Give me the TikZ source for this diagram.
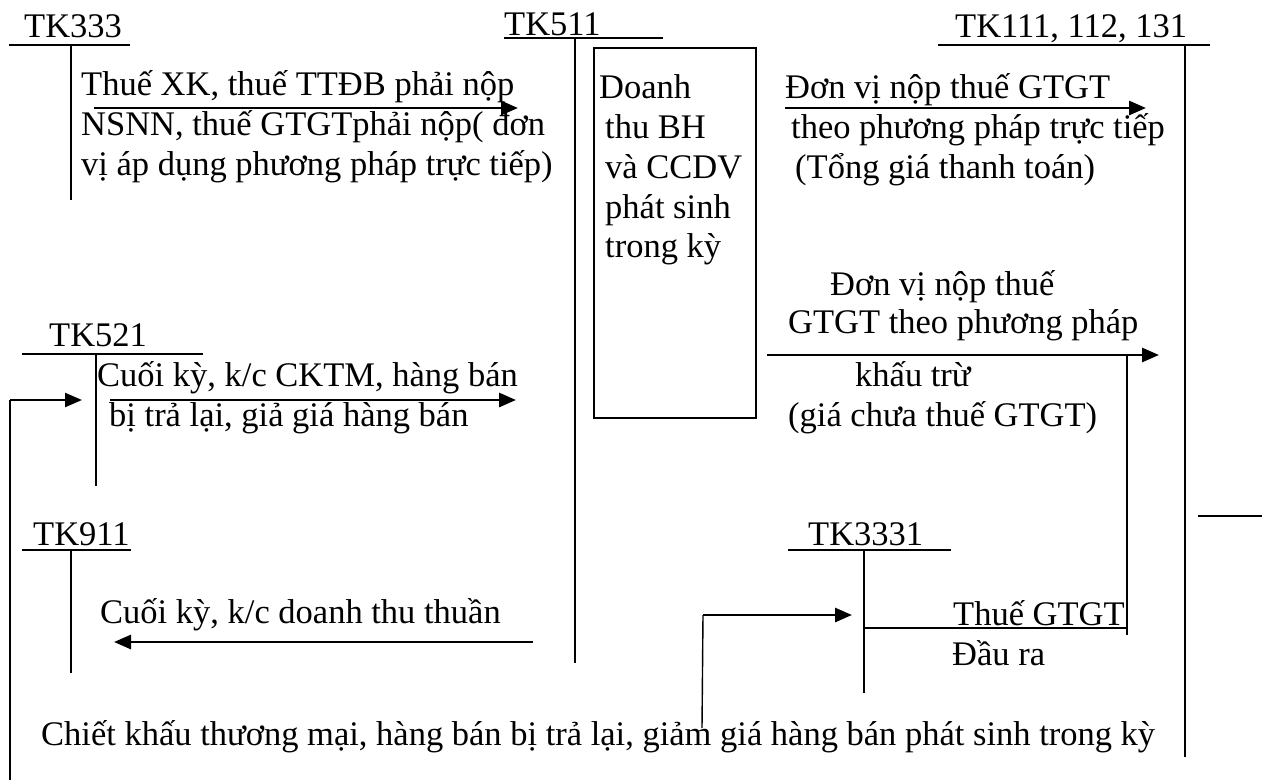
\documentclass[tikz,border=0pt]{standalone}
\usepackage{fontspec}
\setmainfont{Liberation Serif}
\usetikzlibrary{arrows.meta}
\begin{document}
\begin{tikzpicture}[x=1pt,y=-1pt,
  txt/.style={font=\fontsize{34.5}{40}\selectfont, inner sep=0pt, anchor=base west},
  thin/.style={line width=1.4pt},
  rule/.style={line width=1.8pt},
  flow/.style={line width=2.8pt, -{Triangle[length=17pt,width=14pt]}},
]
\useasboundingbox (0,0) rectangle (1262,780);

% ---- TK333 ----
\node[txt] (tk333) at (24,37) {TK333};
\coordinate (u333a) at (9,45);   \coordinate (u333b) at (130,45);
\coordinate (v333a) at (71,45);  \coordinate (v333b) at (71,200);
\draw[rule] (u333a) -- (u333b);
\draw[thin] (v333a) -- (v333b);
\node[txt] (t1a) at (81,95)  {Thuế XK, thuế TTĐB phải nộp};
\node[txt] (t1b) at (81,135) {NSNN, thuế GTGTphải nộp( đơn};
\node[txt] (t1c) at (81,175) {vị áp dụng phương pháp trực tiếp)};
\coordinate (f1s) at (94,108);   \coordinate (f1e) at (518,108);
\draw[flow] (f1s) -- (f1e);

% ---- TK511 ----
\node[txt] (tk511) at (504,35) {TK511};
\coordinate (u511a) at (504,38); \coordinate (u511b) at (663,38);
\coordinate (v511a) at (575,38); \coordinate (v511b) at (575,663);
\draw[rule] (u511a) -- (u511b);
\draw[thin] (v511a) -- (v511b);
\coordinate (boxa) at (594,48);  \coordinate (boxb) at (756,418);
\draw[thin] (boxa) rectangle (boxb);
\node[txt] (d1) at (599,98)  {Doanh};
\node[txt] (d2) at (605,138) {thu BH};
\node[txt] (d3) at (605,178) {và CCDV};
\node[txt] (d4) at (605,218) {phát sinh};
\node[txt] (d5) at (605,257) {trong kỳ};

% ---- TK111, 112, 131 ----
\node[txt] (tk111) at (955,37) {TK111, 112, 131};
\coordinate (u111a) at (938,45);  \coordinate (u111b) at (1210,45);
\coordinate (v111a) at (1185,45); \coordinate (v111b) at (1185,757);
\draw[rule] (u111a) -- (u111b);
\draw[thin] (v111a) -- (v111b);
\node[txt] (r1a) at (785,98)  {Đơn vị nộp thuế GTGT};
\node[txt] (r1b) at (791,138) {theo phương pháp trực tiếp};
\node[txt] (r1c) at (795,178) {(Tổng giá thanh toán)};
\coordinate (f2s) at (785,108);  \coordinate (f2e) at (1146,108);
\draw[flow] (f2s) -- (f2e);

\node[txt] (r2a) at (830,295) {Đơn vị nộp thuế};
\node[txt] (r2b) at (788,333) {GTGT theo phương pháp};
\node[txt] (r2c) at (855,386) {khấu trừ};
\node[txt] (r2d) at (788,426) {(giá chưa thuế GTGT)};
\coordinate (f3s) at (767,355);  \coordinate (f3e) at (1159,355);
\draw[flow] (f3s) -- (f3e);
\coordinate (vata) at (1127,355); \coordinate (vatb) at (1127,635);
\draw[thin] (vata) -- (vatb);
\coordinate (tka) at (1198,516);  \coordinate (tkb) at (1262,516);
\draw[thin] (tka) -- (tkb);

% ---- TK521 ----
\node[txt] (tk521) at (49,346) {TK521};
\coordinate (u521a) at (22,354); \coordinate (u521b) at (203,354);
\coordinate (v521a) at (96,354); \coordinate (v521b) at (96,486);
\draw[thin] (u521a) -- (u521b);
\draw[thin] (v521a) -- (v521b);
\node[txt] (k1) at (97,386)  {Cuối kỳ, k/c CKTM, hàng bán};
\node[txt] (k2) at (109,426) {bị trả lại, giả giá hàng bán};
\coordinate (f4s) at (110,400);  \coordinate (f4e) at (516,400);
\draw[flow] (f4s) -- (f4e);
\coordinate (lb) at (10,780); \coordinate (lt) at (10,400); \coordinate (le) at (82,400);
\draw[thin] (lb) -- (lt);
\draw[flow, line width=2.4pt] (lt) -- (le);

% ---- TK911 ----
\node[txt] (tk911) at (33,545) {TK911};
\coordinate (u911a) at (22,550); \coordinate (u911b) at (131,550);
\coordinate (v911a) at (71,550); \coordinate (v911b) at (71,673);
\draw[rule] (u911a) -- (u911b);
\draw[thin] (v911a) -- (v911b);
\node[txt] (n1) at (100,623) {Cuối kỳ, k/c doanh thu thuần};
\coordinate (f5s) at (533,642);  \coordinate (f5e) at (114,642);
\draw[flow] (f5s) -- (f5e);

% ---- TK3331 ----
\node[txt] (tk3331) at (808,545) {TK3331};
\coordinate (u3331a) at (788,550); \coordinate (u3331b) at (951,550);
\coordinate (v3331a) at (864,550); \coordinate (v3331b) at (864,693);
\draw[rule] (u3331a) -- (u3331b);
\draw[thin] (v3331a) -- (v3331b);
\coordinate (h3331) at (864,628); \coordinate (hvat) at (1127,628);
\draw[thin] (h3331) -- (hvat);
\node[txt] (g1) at (953,625) {Thuế GTGT};
\node[txt] (g2) at (952,665) {Đầu ra};
\coordinate (cb) at (702,728); \coordinate (ct) at (703,615); \coordinate (ce) at (852,615);
\draw[thin] (cb) -- (ct);
\draw[flow] (ct) -- (ce);

% ---- bottom caption ----
\node[txt] (cap) at (41,745) {Chiết khấu thương mại, hàng bán bị trả lại, giảm giá hàng bán phát sinh trong kỳ};
\end{tikzpicture}
\end{document}
